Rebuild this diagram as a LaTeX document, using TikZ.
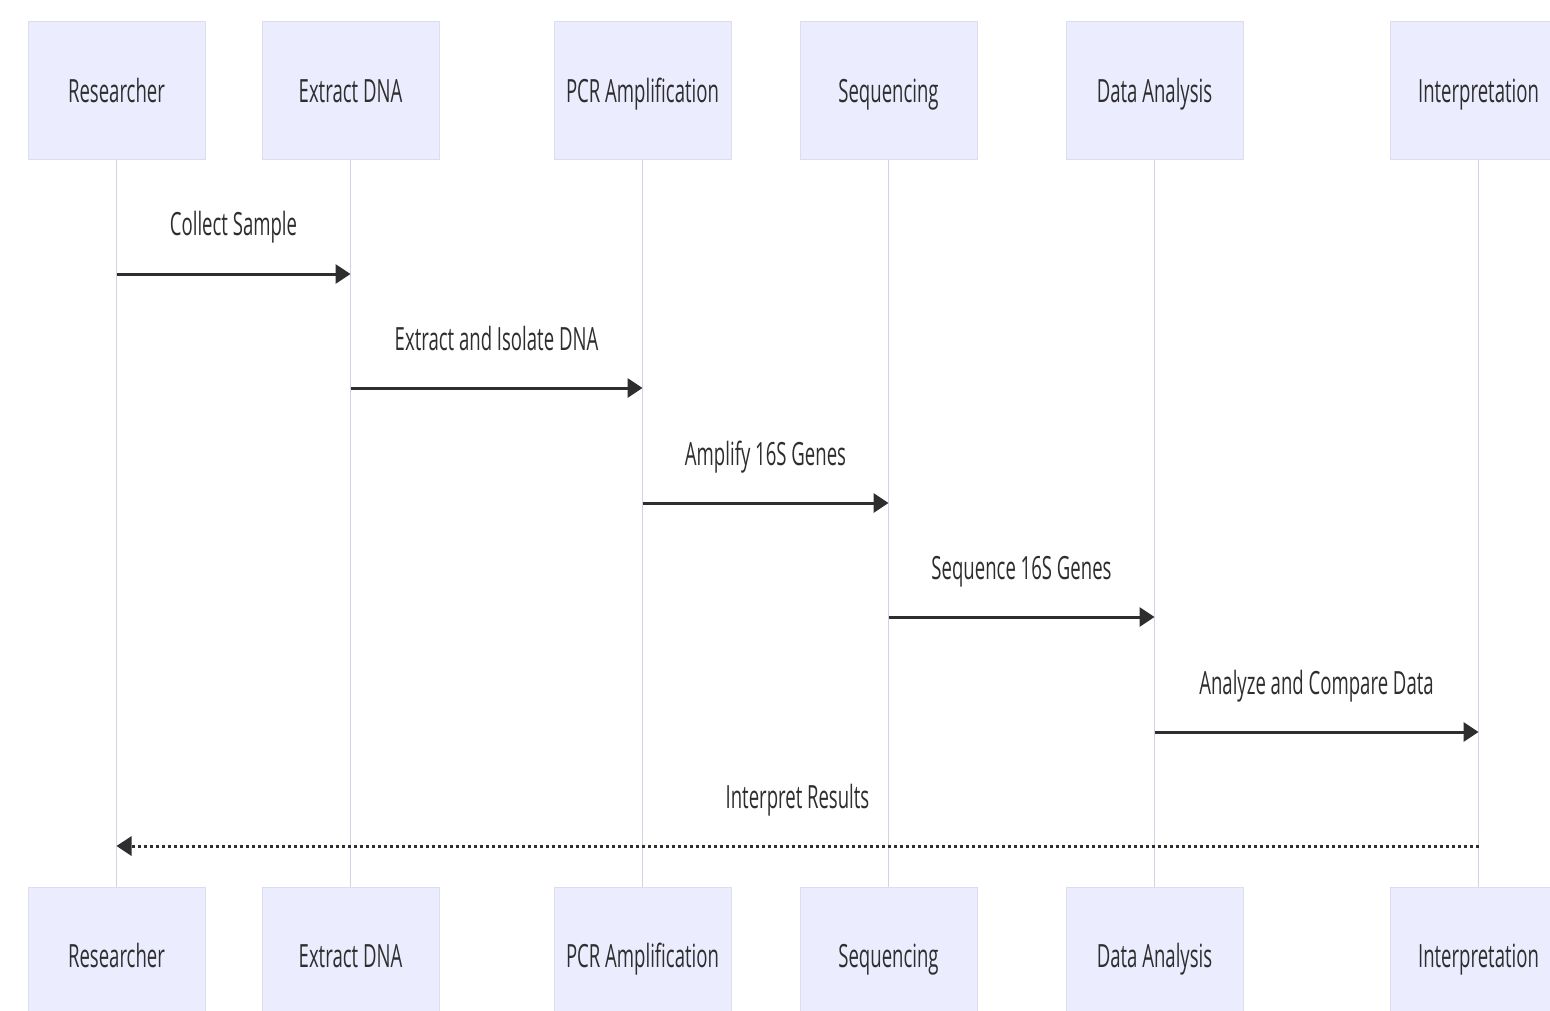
\documentclass[tikz,border=0pt]{standalone}
\usepackage{fontspec}
\setmainfont{Open Sans}[FakeStretch=0.58]
\usetikzlibrary{arrows.meta}
\definecolor{boxfill}{HTML}{ECECFF}
\definecolor{boxline}{HTML}{DDDDF0}
\definecolor{lifeline}{HTML}{D2D2E2}
\definecolor{ink}{HTML}{2E2E2E}
\tikzset{
	actor/.style={draw=boxline, fill=boxfill, line width=1pt, minimum width=177pt,
		minimum height=138pt, inner sep=0pt, text height=23pt, text depth=-3pt,
		text=ink, font=\fontsize{32}{38}\selectfont},
	msglabel/.style={text=ink, inner sep=0pt, anchor=base, font=\fontsize{32}{38}\selectfont},
	lifeline/.style={draw=lifeline, line width=1.5pt},
	msg/.style={draw=ink, line width=3pt, -{Triangle[length=15pt,width=19pt]}},
	reply/.style={msg, dash pattern=on 3pt off 3pt}
}
\begin{document}
\begin{tikzpicture}[x=1pt,y=-1pt]
			\useasboundingbox (0,0) rectangle (1550,1011);
			\clip (0,0) rectangle (1550,1011);
			\fill[white] (0,0) rectangle (1550,1011);
			% lifelines
			\draw[lifeline] (116.5,160) -- (116.5,887);
			\draw[lifeline] (350.5,160) -- (350.5,887);
			\draw[lifeline] (642.5,160) -- (642.5,887);
			\draw[lifeline] (888.5,160) -- (888.5,887);
			\draw[lifeline] (1154.5,160) -- (1154.5,887);
			\draw[lifeline] (1478.5,160) -- (1478.5,887);
			% actors, top
			\node[actor] (res) at (116.5,91) {Researcher};
			\node[actor] (ext) at (350.5,91) {Extract DNA};
			\node[actor] (pcr) at (642.5,91) {PCR Amplification};
			\node[actor] (seq) at (888.5,91) {Sequencing};
			\node[actor] (ana) at (1154.5,91) {Data Analysis};
			\node[actor] (int) at (1478.5,91) {Interpretation};
			% actors, bottom
			\node[actor] (resB) at (116.5,956) {Researcher};
			\node[actor] (extB) at (350.5,956) {Extract DNA};
			\node[actor] (pcrB) at (642.5,956) {PCR Amplification};
			\node[actor] (seqB) at (888.5,956) {Sequencing};
			\node[actor] (anaB) at (1154.5,956) {Data Analysis};
			\node[actor] (intB) at (1478.5,956) {Interpretation};
			% messages
			\draw[msg] (res |- 0,274) -- (ext |- 0,274);
			\node[msglabel] (m1) at (233.5,236) {Collect Sample};
			\draw[msg] (ext |- 0,388) -- (pcr |- 0,388);
			\node[msglabel] (m2) at (496.5,350) {Extract and Isolate DNA};
			\draw[msg] (pcr |- 0,503) -- (seq |- 0,503);
			\node[msglabel] (m3) at (765.5,465) {Amplify 16S Genes};
			\draw[msg] (seq |- 0,617) -- (ana |- 0,617);
			\node[msglabel] (m4) at (1021.5,579) {Sequence 16S Genes};
			\draw[msg] (ana |- 0,732) -- (int |- 0,732);
			\node[msglabel] (m5) at (1316.5,694) {Analyze and Compare Data};
			\draw[reply] (int |- 0,846) -- (res |- 0,846);
			\node[msglabel] (m6) at (797.5,808) {Interpret Results};
\end{tikzpicture}
\end{document}
